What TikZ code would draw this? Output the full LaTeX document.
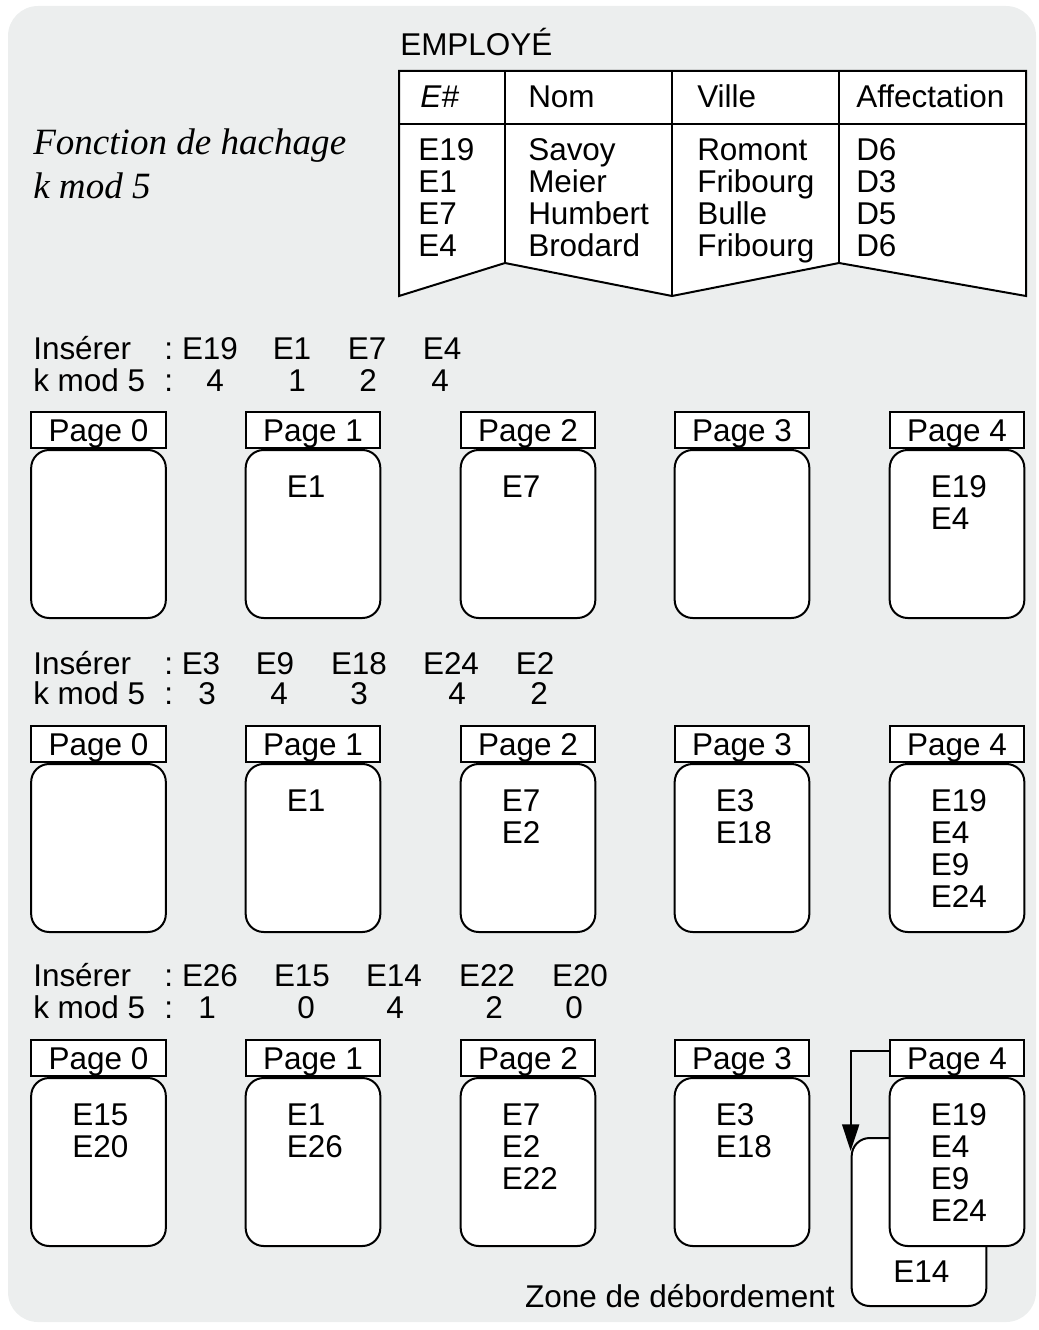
\documentclass[tikz,border=0pt]{standalone}
\usepackage{fontspec}
\setmainfont{Liberation Sans}
\newfontfamily\hashfont{Liberation Serif}
\usepackage{tikz}
\usetikzlibrary{arrows.meta, positioning}
\definecolor{panelgray}{RGB}{236,238,238}
\tikzstyle{arrow}   = [line width=1.5pt, -{Triangle[width=12.75pt,length=20pt]}]
\tikzstyle{pagebox} = [rectangle, draw, fill=white, line width=1.5pt, rounded corners=13.5pt, minimum width=101pt, minimum height=126pt]
\tikzstyle{pagetag} = [rectangle, draw, fill=white, line width=1.5pt, sharp corners, minimum width=101pt, minimum height=27pt, text height=16.9pt, text depth=0pt]
\tikzstyle{entries} = [align=left]
\tikzstyle{key}     = [anchor=base]
\tikzstyle{lead}    = [anchor=base west]
\tikzset{every node/.style={font=\fontsize{23.6}{24}\selectfont, inner sep=0pt}}

\begin{document}
\begin{tikzpicture}[x=0.75pt, y=-0.75pt]
    \useasboundingbox (0,0) rectangle (1038,1330);
    \fill [panelgray, rounded corners=22.5pt] (8,6) rectangle (1036,1322);

    \node (hash) at (33,129) [anchor=north west, align=left, font=\hashfont\itshape\fontsize{27.8}{33}\selectfont]
          {Fonction de hachage\\k mod 5};

    \node (emp) at (400,56) [lead] {EMPLOYÉ};
    \draw [line width=1.5pt, fill=white] (399,71) -- (1026,71) -- (1026,296) -- (839,263)
          -- (672,296) -- (505,263) -- (399,296) -- cycle;
    \draw [line width=1.5pt] (399,124) -- (1026,124);
    \draw [line width=1.5pt] (505,71) -- (505,263);
    \draw [line width=1.5pt] (672,71) -- (672,296);
    \draw [line width=1.5pt] (839,71) -- (839,263);
    \node (hE)   at (420,108) [lead] {\textit{E\#}};
    \node (hNom) at (528,108) [lead] {Nom};
    \node (hVil) at (697,108) [lead] {Ville};
    \node (hAff) at (856,108) [lead] {Affectation};
    \node (cE)   at (418,138.7) [anchor=north west, entries] {E19\\E1\\E7\\E4};
    \node (cNom) at (528,138.7) [anchor=north west, entries] {Savoy\\Meier\\Humbert\\Brodard};
    \node (cVil) at (697,138.7) [anchor=north west, entries] {Romont\\Fribourg\\Bulle\\Fribourg};
    \node (cAff) at (856,138.7) [anchor=north west, entries] {D6\\D3\\D5\\D6};

    \node (ins1) at (33,359)  [lead] {Insérer};
    \node (ic1)  at (164,359) [lead] {:};
    \node (k1a)  at (210,359) [key] {E19};
    \node (k1b)  at (292,359) [key] {E1};
    \node (k1c)  at (367,359) [key] {E7};
    \node (k1d)  at (442,359) [key] {E4};
    \node (km1)  at (33,391)  [lead] {k mod 5};
    \node (mc1)  at (164,391) [lead] {:};
    \node (m1a)  at (215,391) [key] {4};
    \node (m1b)  at (297,391) [key] {1};
    \node (m1c)  at (368,391) [key] {2};
    \node (m1d)  at (440,391) [key] {4};

    \node (p10) at (98.5,534) [pagebox, label={[name=l10, pagetag]above:Page 0}] {};
    \node (p11) at (313,534)  [pagebox, label={[name=l11, pagetag]above:Page 1}] {};
    \node (p12) at (528,534)  [pagebox, label={[name=l12, pagetag]above:Page 2}] {};
    \node (p13) at (742,534)  [pagebox, label={[name=l13, pagetag]above:Page 3}] {};
    \node (p14) at (957,534)  [pagebox, label={[name=l14, pagetag]above:Page 4}] {};
    \node (c11) [entries, below right=20pt and 31.5pt of p11.north west] {E1};
    \node (c12) [entries, below right=20pt and 31.5pt of p12.north west] {E7};
    \node (c14) [entries, below right=20pt and 31.5pt of p14.north west] {E19\\E4};

    \node (ins2) at (33,674)  [lead] {Insérer};
    \node (ic2)  at (164,674) [lead] {:};
    \node (k2a)  at (201,674) [key] {E3};
    \node (k2b)  at (275,674) [key] {E9};
    \node (k2c)  at (359,674) [key] {E18};
    \node (k2d)  at (451,674) [key] {E24};
    \node (k2e)  at (535,674) [key] {E2};
    \node (km2)  at (33,704)  [lead] {k mod 5};
    \node (mc2)  at (164,704) [lead] {:};
    \node (m2a)  at (207,704) [key] {3};
    \node (m2b)  at (279,704) [key] {4};
    \node (m2c)  at (359,704) [key] {3};
    \node (m2d)  at (457,704) [key] {4};
    \node (m2e)  at (539,704) [key] {2};

    \node (p20) at (98.5,848) [pagebox, label={[name=l20, pagetag]above:Page 0}] {};
    \node (p21) at (313,848)  [pagebox, label={[name=l21, pagetag]above:Page 1}] {};
    \node (p22) at (528,848)  [pagebox, label={[name=l22, pagetag]above:Page 2}] {};
    \node (p23) at (742,848)  [pagebox, label={[name=l23, pagetag]above:Page 3}] {};
    \node (p24) at (957,848)  [pagebox, label={[name=l24, pagetag]above:Page 4}] {};
    \node (c21) [entries, below right=20pt and 31.5pt of p21.north west] {E1};
    \node (c22) [entries, below right=20pt and 31.5pt of p22.north west] {E7\\E2};
    \node (c23) [entries, below right=20pt and 31.5pt of p23.north west] {E3\\E18};
    \node (c24) [entries, below right=20pt and 31.5pt of p24.north west] {E19\\E4\\E9\\E24};

    \node (ins3) at (33,986)   [lead] {Insérer};
    \node (ic3)  at (164,986)  [lead] {:};
    \node (k3a)  at (210,986)  [key] {E26};
    \node (k3b)  at (302,986)  [key] {E15};
    \node (k3c)  at (394,986)  [key] {E14};
    \node (k3d)  at (487,986)  [key] {E22};
    \node (k3e)  at (580,986)  [key] {E20};
    \node (km3)  at (33,1018)  [lead] {k mod 5};
    \node (mc3)  at (164,1018) [lead] {:};
    \node (m3a)  at (207,1018) [key] {1};
    \node (m3b)  at (306,1018) [key] {0};
    \node (m3c)  at (395,1018) [key] {4};
    \node (m3d)  at (494,1018) [key] {2};
    \node (m3e)  at (574,1018) [key] {0};

    \node (ovf) at (919,1222)  [pagebox] {};
    \node (c35) at (893,1282)  [lead] {E14};
    \node (p30) at (98.5,1162) [pagebox, label={[name=l30, pagetag]above:Page 0}] {};
    \node (p31) at (313,1162)  [pagebox, label={[name=l31, pagetag]above:Page 1}] {};
    \node (p32) at (528,1162)  [pagebox, label={[name=l32, pagetag]above:Page 2}] {};
    \node (p33) at (742,1162)  [pagebox, label={[name=l33, pagetag]above:Page 3}] {};
    \node (p34) at (957,1162)  [pagebox, label={[name=l34, pagetag]above:Page 4}] {};
    \node (c30) [entries, below right=20pt and 31.5pt of p30.north west] {E15\\E20};
    \node (c31) [entries, below right=20pt and 31.5pt of p31.north west] {E1\\E26};
    \node (c32) [entries, below right=20pt and 31.5pt of p32.north west] {E7\\E2\\E22};
    \node (c33) [entries, below right=20pt and 31.5pt of p33.north west] {E3\\E18};
    \node (c34) [entries, below right=20pt and 31.5pt of p34.north west] {E19\\E4\\E9\\E24};

    \node (zone) at (835,1307) [anchor=base east] {Zone de débordement};

    \draw [arrow] ([yshift=5pt]l34.west) -| ([yshift=-10.5pt]ovf.north west);
\end{tikzpicture}
\end{document}
